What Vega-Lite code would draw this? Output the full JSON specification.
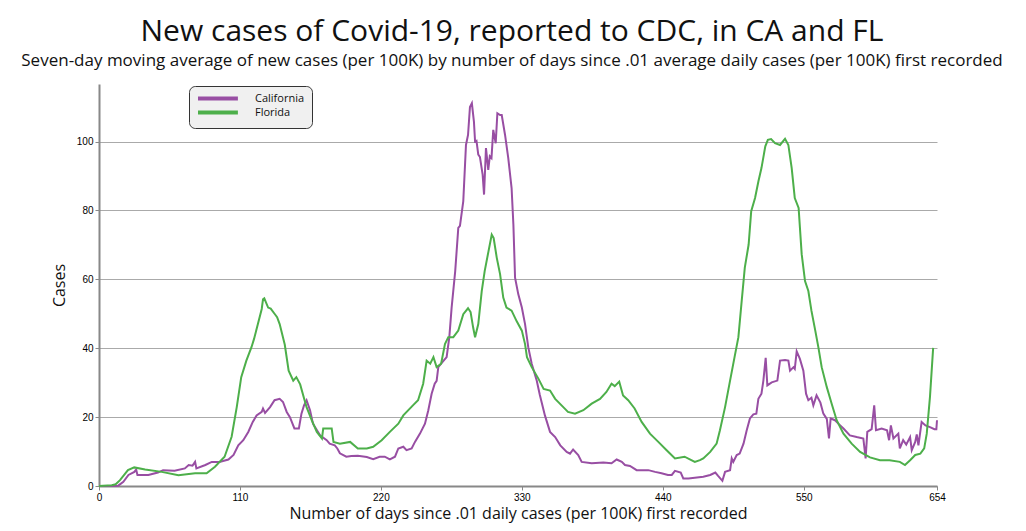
{
  "$schema": "https://vega.github.io/schema/vega-lite/v6.json",
  "width": 838,
  "height": 402,
  "autosize": {"type": "none"},
  "padding": {"left": 99, "top": 84, "right": 89, "bottom": 45},
  "background": "white",
  "title": {
    "text": "New cases of Covid-19, reported to CDC, in CA and FL",
    "subtitle": "Seven-day moving average of new cases (per 100K) by number of days since .01 average daily cases (per 100K) first recorded",
    "anchor": "middle",
    "dx": -6,
    "font": "Open Sans",
    "fontSize": 30,
    "fontWeight": "normal",
    "color": "#111",
    "subtitleFont": "Open Sans",
    "subtitleFontSize": 17,
    "subtitleColor": "#111",
    "subtitlePadding": 6,
    "offset": 15
  },
  "data": {
    "values": [
      {"day":0,"cases":0,"state":"California"},{"day":10,"cases":0,"state":"California"},{"day":15,"cases":0.1,"state":"California"},{"day":19,"cases":1.2,"state":"California"},{"day":23,"cases":3.2,"state":"California"},{"day":27.6,"cases":4.1,"state":"California"},{"day":29,"cases":4.8,"state":"California"},{"day":30,"cases":3.2,"state":"California"},{"day":38.5,"cases":3.2,"state":"California"},{"day":46,"cases":3.9,"state":"California"},{"day":50,"cases":4.6,"state":"California"},{"day":59,"cases":4.4,"state":"California"},{"day":67,"cases":5.1,"state":"California"},{"day":70,"cases":6.1,"state":"California"},{"day":73,"cases":5.9,"state":"California"},{"day":75,"cases":7,"state":"California"},{"day":76,"cases":5.1,"state":"California"},{"day":83,"cases":6.1,"state":"California"},{"day":88,"cases":7,"state":"California"},{"day":94,"cases":7,"state":"California"},{"day":101,"cases":7.7,"state":"California"},{"day":105,"cases":9,"state":"California"},{"day":108.7,"cases":11.8,"state":"California"},{"day":112.6,"cases":13.3,"state":"California"},{"day":116.5,"cases":15.7,"state":"California"},{"day":120,"cases":18.6,"state":"California"},{"day":123,"cases":20.5,"state":"California"},{"day":127,"cases":21.5,"state":"California"},{"day":128,"cases":22.5,"state":"California"},{"day":129.6,"cases":21.2,"state":"California"},{"day":133.5,"cases":22.9,"state":"California"},{"day":137,"cases":24.9,"state":"California"},{"day":141,"cases":25.3,"state":"California"},{"day":143.6,"cases":24.4,"state":"California"},{"day":146.5,"cases":21.5,"state":"California"},{"day":149,"cases":20,"state":"California"},{"day":152.5,"cases":16.7,"state":"California"},{"day":156,"cases":16.7,"state":"California"},{"day":158,"cases":21,"state":"California"},{"day":160,"cases":23.4,"state":"California"},{"day":162,"cases":24.9,"state":"California"},{"day":164.7,"cases":22,"state":"California"},{"day":167,"cases":18.1,"state":"California"},{"day":172.5,"cases":14.7,"state":"California"},{"day":177.7,"cases":13.3,"state":"California"},{"day":180,"cases":12.3,"state":"California"},{"day":184,"cases":11.8,"state":"California"},{"day":186,"cases":10.9,"state":"California"},{"day":188,"cases":9.5,"state":"California"},{"day":193,"cases":8.5,"state":"California"},{"day":197,"cases":8.7,"state":"California"},{"day":202,"cases":8.8,"state":"California"},{"day":209,"cases":8.4,"state":"California"},{"day":214,"cases":7.8,"state":"California"},{"day":219,"cases":8.5,"state":"California"},{"day":223,"cases":8.5,"state":"California"},{"day":227,"cases":7.7,"state":"California"},{"day":231,"cases":8.5,"state":"California"},{"day":233.6,"cases":10.9,"state":"California"},{"day":237.5,"cases":11.4,"state":"California"},{"day":240,"cases":10.4,"state":"California"},{"day":244,"cases":10.9,"state":"California"},{"day":246.6,"cases":12.8,"state":"California"},{"day":250.5,"cases":15.2,"state":"California"},{"day":254.4,"cases":18.1,"state":"California"},{"day":257,"cases":22,"state":"California"},{"day":259.6,"cases":26.8,"state":"California"},{"day":262,"cases":29.7,"state":"California"},{"day":263.5,"cases":30.5,"state":"California"},{"day":264.8,"cases":34.5,"state":"California"},{"day":267,"cases":35.5,"state":"California"},{"day":271.3,"cases":37.4,"state":"California"},{"day":273.4,"cases":43.2,"state":"California"},{"day":275.2,"cases":51.8,"state":"California"},{"day":278,"cases":62.4,"state":"California"},{"day":280.4,"cases":74.9,"state":"California"},{"day":281.7,"cases":75.5,"state":"California"},{"day":284.3,"cases":82.7,"state":"California"},{"day":286.4,"cases":99,"state":"California"},{"day":288,"cases":101.9,"state":"California"},{"day":289.5,"cases":110,"state":"California"},{"day":291,"cases":111.1,"state":"California"},{"day":292.6,"cases":105.8,"state":"California"},{"day":293.5,"cases":100,"state":"California"},{"day":294.6,"cases":100.2,"state":"California"},{"day":296,"cases":96.2,"state":"California"},{"day":297.3,"cases":95.5,"state":"California"},{"day":299.4,"cases":90.4,"state":"California"},{"day":300.5,"cases":84.6,"state":"California"},{"day":302,"cases":98.1,"state":"California"},{"day":303.8,"cases":91.8,"state":"California"},{"day":305,"cases":95.7,"state":"California"},{"day":306.3,"cases":95.2,"state":"California"},{"day":307.7,"cases":103.4,"state":"California"},{"day":309.6,"cases":99.5,"state":"California"},{"day":310.9,"cases":108.2,"state":"California"},{"day":313,"cases":107.7,"state":"California"},{"day":314.3,"cases":107.7,"state":"California"},{"day":316.9,"cases":101.9,"state":"California"},{"day":319.4,"cases":95.2,"state":"California"},{"day":322,"cases":86.5,"state":"California"},{"day":323.4,"cases":75.9,"state":"California"},{"day":324.7,"cases":60.5,"state":"California"},{"day":327.2,"cases":55.7,"state":"California"},{"day":330,"cases":51.8,"state":"California"},{"day":332.5,"cases":47,"state":"California"},{"day":335,"cases":40.3,"state":"California"},{"day":337.7,"cases":35.5,"state":"California"},{"day":341.6,"cases":30.6,"state":"California"},{"day":344,"cases":26.5,"state":"California"},{"day":348,"cases":20.5,"state":"California"},{"day":352,"cases":15.7,"state":"California"},{"day":356,"cases":14.2,"state":"California"},{"day":360,"cases":11.8,"state":"California"},{"day":365,"cases":9.9,"state":"California"},{"day":367.6,"cases":9.4,"state":"California"},{"day":370,"cases":10.6,"state":"California"},{"day":374,"cases":9,"state":"California"},{"day":376.7,"cases":7,"state":"California"},{"day":384.5,"cases":6.6,"state":"California"},{"day":393.6,"cases":6.8,"state":"California"},{"day":400,"cases":6.6,"state":"California"},{"day":404,"cases":7.7,"state":"California"},{"day":408,"cases":7,"state":"California"},{"day":410.5,"cases":6.1,"state":"California"},{"day":414.4,"cases":5.8,"state":"California"},{"day":419.6,"cases":4.6,"state":"California"},{"day":428.7,"cases":4.6,"state":"California"},{"day":434,"cases":4.1,"state":"California"},{"day":439,"cases":3.7,"state":"California"},{"day":444,"cases":3.2,"state":"California"},{"day":447,"cases":3.2,"state":"California"},{"day":449.5,"cases":4.4,"state":"California"},{"day":454,"cases":3.9,"state":"California"},{"day":456,"cases":2.2,"state":"California"},{"day":460,"cases":2.2,"state":"California"},{"day":465,"cases":2.4,"state":"California"},{"day":471.6,"cases":2.7,"state":"California"},{"day":477,"cases":3.2,"state":"California"},{"day":481,"cases":3.9,"state":"California"},{"day":483,"cases":3,"state":"California"},{"day":486.5,"cases":1.5,"state":"California"},{"day":488.6,"cases":4.1,"state":"California"},{"day":492.5,"cases":4.6,"state":"California"},{"day":493.8,"cases":8,"state":"California"},{"day":495,"cases":7,"state":"California"},{"day":497.7,"cases":9,"state":"California"},{"day":500,"cases":9.4,"state":"California"},{"day":503,"cases":12.3,"state":"California"},{"day":505.5,"cases":16.2,"state":"California"},{"day":508,"cases":19.6,"state":"California"},{"day":510.7,"cases":20.8,"state":"California"},{"day":513,"cases":21,"state":"California"},{"day":514.6,"cases":25.3,"state":"California"},{"day":517,"cases":26.8,"state":"California"},{"day":518.5,"cases":30.6,"state":"California"},{"day":520.3,"cases":37.2,"state":"California"},{"day":521.6,"cases":29.2,"state":"California"},{"day":525,"cases":30.1,"state":"California"},{"day":529.4,"cases":30.6,"state":"California"},{"day":531.5,"cases":36.4,"state":"California"},{"day":535.4,"cases":36.6,"state":"California"},{"day":538,"cases":36.4,"state":"California"},{"day":539.3,"cases":33.5,"state":"California"},{"day":542,"cases":34.5,"state":"California"},{"day":543,"cases":34,"state":"California"},{"day":544.5,"cases":39.1,"state":"California"},{"day":547,"cases":36.9,"state":"California"},{"day":549.7,"cases":33.5,"state":"California"},{"day":551.8,"cases":26.8,"state":"California"},{"day":553.6,"cases":24.9,"state":"California"},{"day":556,"cases":25.6,"state":"California"},{"day":557.5,"cases":23.4,"state":"California"},{"day":560,"cases":26.3,"state":"California"},{"day":563,"cases":24.2,"state":"California"},{"day":565.3,"cases":21,"state":"California"},{"day":568,"cases":19.5,"state":"California"},{"day":569.7,"cases":13.8,"state":"California"},{"day":571,"cases":19.6,"state":"California"},{"day":574.4,"cases":19.1,"state":"California"},{"day":577,"cases":18.1,"state":"California"},{"day":581,"cases":16.7,"state":"California"},{"day":586,"cases":14.7,"state":"California"},{"day":591.3,"cases":14.2,"state":"California"},{"day":596.5,"cases":13.8,"state":"California"},{"day":598.3,"cases":8,"state":"California"},{"day":599.6,"cases":15.7,"state":"California"},{"day":603,"cases":16.5,"state":"California"},{"day":605,"cases":23.4,"state":"California"},{"day":606.4,"cases":16.2,"state":"California"},{"day":610.8,"cases":16.7,"state":"California"},{"day":615,"cases":16.2,"state":"California"},{"day":616.6,"cases":13.3,"state":"California"},{"day":618,"cases":17.6,"state":"California"},{"day":620,"cases":13.8,"state":"California"},{"day":623.8,"cases":15.2,"state":"California"},{"day":625,"cases":10.9,"state":"California"},{"day":627.6,"cases":13.3,"state":"California"},{"day":630,"cases":12,"state":"California"},{"day":633,"cases":14.2,"state":"California"},{"day":634.3,"cases":10.4,"state":"California"},{"day":637,"cases":12.8,"state":"California"},{"day":638.2,"cases":15,"state":"California"},{"day":639.5,"cases":11.8,"state":"California"},{"day":642,"cases":18.6,"state":"California"},{"day":645,"cases":17.6,"state":"California"},{"day":648.5,"cases":17.1,"state":"California"},{"day":652,"cases":16.5,"state":"California"},{"day":653.5,"cases":16.5,"state":"California"},{"day":654,"cases":19.1,"state":"California"},
      {"day":0,"cases":0,"state":"Florida"},{"day":10,"cases":0.2,"state":"Florida"},{"day":13,"cases":0.5,"state":"Florida"},{"day":16.4,"cases":1.7,"state":"Florida"},{"day":22.6,"cases":4.6,"state":"Florida"},{"day":27.5,"cases":5.4,"state":"Florida"},{"day":36,"cases":4.8,"state":"Florida"},{"day":49,"cases":4.1,"state":"Florida"},{"day":62,"cases":3.1,"state":"Florida"},{"day":75,"cases":3.7,"state":"Florida"},{"day":84,"cases":3.7,"state":"Florida"},{"day":90.5,"cases":5.6,"state":"Florida"},{"day":98,"cases":8.5,"state":"Florida"},{"day":103.5,"cases":14.3,"state":"Florida"},{"day":107.5,"cases":22.9,"state":"Florida"},{"day":111,"cases":31.6,"state":"Florida"},{"day":115,"cases":36.4,"state":"Florida"},{"day":119,"cases":40.3,"state":"Florida"},{"day":121,"cases":42.7,"state":"Florida"},{"day":124,"cases":47,"state":"Florida"},{"day":127,"cases":51.4,"state":"Florida"},{"day":128,"cases":54.2,"state":"Florida"},{"day":129,"cases":54.5,"state":"Florida"},{"day":132,"cases":51.8,"state":"Florida"},{"day":134,"cases":51.5,"state":"Florida"},{"day":137,"cases":50,"state":"Florida"},{"day":139,"cases":49,"state":"Florida"},{"day":141,"cases":47,"state":"Florida"},{"day":145,"cases":41,"state":"Florida"},{"day":148,"cases":33.5,"state":"Florida"},{"day":151.6,"cases":30.6,"state":"Florida"},{"day":154,"cases":31.6,"state":"Florida"},{"day":157,"cases":29.5,"state":"Florida"},{"day":160,"cases":25.5,"state":"Florida"},{"day":162,"cases":22.9,"state":"Florida"},{"day":166,"cases":19.1,"state":"Florida"},{"day":170,"cases":15.7,"state":"Florida"},{"day":174,"cases":13.8,"state":"Florida"},{"day":175,"cases":16.7,"state":"Florida"},{"day":181.6,"cases":16.7,"state":"Florida"},{"day":183,"cases":12.8,"state":"Florida"},{"day":188,"cases":12.3,"state":"Florida"},{"day":196,"cases":12.8,"state":"Florida"},{"day":202,"cases":10.9,"state":"Florida"},{"day":209,"cases":10.9,"state":"Florida"},{"day":214,"cases":11.4,"state":"Florida"},{"day":220.6,"cases":13.3,"state":"Florida"},{"day":227,"cases":15.7,"state":"Florida"},{"day":233.6,"cases":18.1,"state":"Florida"},{"day":237.5,"cases":20.5,"state":"Florida"},{"day":245,"cases":23.4,"state":"Florida"},{"day":249,"cases":24.9,"state":"Florida"},{"day":253,"cases":29.7,"state":"Florida"},{"day":255.7,"cases":36.4,"state":"Florida"},{"day":258.5,"cases":35.5,"state":"Florida"},{"day":261,"cases":37.4,"state":"Florida"},{"day":263.5,"cases":34.5,"state":"Florida"},{"day":267,"cases":35.5,"state":"Florida"},{"day":270,"cases":41.2,"state":"Florida"},{"day":272.6,"cases":43.2,"state":"Florida"},{"day":276.5,"cases":43.2,"state":"Florida"},{"day":280.4,"cases":45.1,"state":"Florida"},{"day":284.3,"cases":49.9,"state":"Florida"},{"day":288,"cases":51.6,"state":"Florida"},{"day":290,"cases":50.5,"state":"Florida"},{"day":292,"cases":46,"state":"Florida"},{"day":293.5,"cases":43.2,"state":"Florida"},{"day":296,"cases":47,"state":"Florida"},{"day":298.7,"cases":56.6,"state":"Florida"},{"day":301,"cases":62.4,"state":"Florida"},{"day":304,"cases":68.2,"state":"Florida"},{"day":306.5,"cases":73,"state":"Florida"},{"day":308,"cases":72,"state":"Florida"},{"day":310.4,"cases":66.3,"state":"Florida"},{"day":313,"cases":61.5,"state":"Florida"},{"day":315.5,"cases":54.7,"state":"Florida"},{"day":318,"cases":51.8,"state":"Florida"},{"day":322,"cases":50.9,"state":"Florida"},{"day":326,"cases":47.8,"state":"Florida"},{"day":330,"cases":45.1,"state":"Florida"},{"day":332.5,"cases":41.2,"state":"Florida"},{"day":334,"cases":37.4,"state":"Florida"},{"day":337.7,"cases":34.5,"state":"Florida"},{"day":343,"cases":31.1,"state":"Florida"},{"day":347,"cases":28.2,"state":"Florida"},{"day":352,"cases":27.7,"state":"Florida"},{"day":356,"cases":25.3,"state":"Florida"},{"day":361,"cases":23.4,"state":"Florida"},{"day":366,"cases":21.5,"state":"Florida"},{"day":371.5,"cases":21,"state":"Florida"},{"day":378,"cases":22,"state":"Florida"},{"day":384.5,"cases":23.9,"state":"Florida"},{"day":391,"cases":25.3,"state":"Florida"},{"day":396,"cases":27.3,"state":"Florida"},{"day":400,"cases":29.7,"state":"Florida"},{"day":402.5,"cases":29,"state":"Florida"},{"day":406,"cases":30.3,"state":"Florida"},{"day":409,"cases":26.3,"state":"Florida"},{"day":413,"cases":24.9,"state":"Florida"},{"day":418,"cases":22.5,"state":"Florida"},{"day":423.5,"cases":18.6,"state":"Florida"},{"day":430,"cases":15.2,"state":"Florida"},{"day":436.5,"cases":12.8,"state":"Florida"},{"day":443,"cases":10.4,"state":"Florida"},{"day":449.5,"cases":8,"state":"Florida"},{"day":457,"cases":8.5,"state":"Florida"},{"day":465,"cases":7,"state":"Florida"},{"day":469,"cases":7.5,"state":"Florida"},{"day":471.6,"cases":8,"state":"Florida"},{"day":477,"cases":9.9,"state":"Florida"},{"day":482,"cases":12.3,"state":"Florida"},{"day":484.6,"cases":16.2,"state":"Florida"},{"day":488.6,"cases":22.9,"state":"Florida"},{"day":492.5,"cases":30.6,"state":"Florida"},{"day":496,"cases":37.4,"state":"Florida"},{"day":499,"cases":43.2,"state":"Florida"},{"day":501.6,"cases":53.8,"state":"Florida"},{"day":504,"cases":63.4,"state":"Florida"},{"day":507,"cases":70.1,"state":"Florida"},{"day":509,"cases":79.8,"state":"Florida"},{"day":512,"cases":83.6,"state":"Florida"},{"day":514.6,"cases":88.4,"state":"Florida"},{"day":517,"cases":92.3,"state":"Florida"},{"day":520,"cases":98.6,"state":"Florida"},{"day":522,"cases":100.5,"state":"Florida"},{"day":524.5,"cases":100.7,"state":"Florida"},{"day":527.6,"cases":99.5,"state":"Florida"},{"day":531.5,"cases":99,"state":"Florida"},{"day":535.4,"cases":100.8,"state":"Florida"},{"day":538,"cases":99,"state":"Florida"},{"day":540.6,"cases":92.3,"state":"Florida"},{"day":543,"cases":83.6,"state":"Florida"},{"day":546,"cases":80.7,"state":"Florida"},{"day":548.4,"cases":67.3,"state":"Florida"},{"day":551,"cases":59.5,"state":"Florida"},{"day":553.6,"cases":56.6,"state":"Florida"},{"day":556,"cases":50.9,"state":"Florida"},{"day":559,"cases":45.1,"state":"Florida"},{"day":561.4,"cases":40.3,"state":"Florida"},{"day":564,"cases":34.5,"state":"Florida"},{"day":568,"cases":28.7,"state":"Florida"},{"day":571.8,"cases":23.9,"state":"Florida"},{"day":575.7,"cases":19.1,"state":"Florida"},{"day":581,"cases":15.2,"state":"Florida"},{"day":587.4,"cases":12.3,"state":"Florida"},{"day":594,"cases":9.9,"state":"Florida"},{"day":601.7,"cases":8.3,"state":"Florida"},{"day":609.5,"cases":7.5,"state":"Florida"},{"day":617,"cases":7.5,"state":"Florida"},{"day":625,"cases":7,"state":"Florida"},{"day":629,"cases":6.1,"state":"Florida"},{"day":633,"cases":7.5,"state":"Florida"},{"day":637,"cases":9,"state":"Florida"},{"day":641,"cases":9.4,"state":"Florida"},{"day":644,"cases":10.9,"state":"Florida"},{"day":646,"cases":15.2,"state":"Florida"},{"day":648.5,"cases":25.8,"state":"Florida"},{"day":651,"cases":40.1,"state":"Florida"}
    ]
  },
  "mark": {"type": "line", "strokeWidth": 2, "interpolate": "linear"},
  "encoding": {
    "x": {
      "field": "day",
      "type": "quantitative",
      "scale": {"domain": [0, 654], "nice": false, "zero": false},
      "axis": {
        "title": "Number of days since .01 daily cases (per 100K) first recorded",
        "values": [0, 110, 220, 330, 440, 550, 654],
        "grid": false,
        "labelFlush": false,
        "titleFont": "Open Sans",
        "titleFontSize": 16,
        "titleFontWeight": "normal",
        "titleColor": "#111",
        "titlePadding": 3
      }
    },
    "y": {
      "field": "cases",
      "type": "quantitative",
      "scale": {"domain": [0, 116.7], "nice": false},
      "axis": {
        "title": "Cases",
        "values": [0, 20, 40, 60, 80, 100],
        "grid": true,
        "titleFont": "Open Sans",
        "titleFontSize": 16,
        "titleFontWeight": "normal",
        "titleColor": "#111",
        "titlePadding": 9
      }
    },
    "color": {
      "field": "state",
      "type": "nominal",
      "scale": {"domain": ["California", "Florida"], "range": ["#984ea3", "#4daf4a"]},
      "legend": {
        "title": null,
        "orient": "none",
        "legendX": 90,
        "legendY": 2,
        "direction": "vertical",
        "fillColor": "#f0f0f0",
        "strokeColor": "#333",
        "cornerRadius": 6,
        "padding": 7,
        "symbolType": "M-1,0H10.4",
        "symbolSize": 49,
        "symbolStrokeWidth": 4,
        "rowPadding": -5,
        "labelOffset": 48,
        "labelFont": "Open Sans",
        "labelFontSize": 11,
        "labelColor": "#111"
      }
    }
  },
  "config": {
    "view": {"stroke": null},
    "axis": {
      "domainColor": "#888",
      "domainWidth": 2,
      "tickColor": "#888",
      "tickSize": 4,
      "tickWidth": 1,
      "gridColor": "#aaa",
      "gridWidth": 1,
      "labelFont": "Liberation Sans",
      "labelFontSize": 10,
      "labelColor": "#000",
      "labelPadding": 2
    }
  }
}
